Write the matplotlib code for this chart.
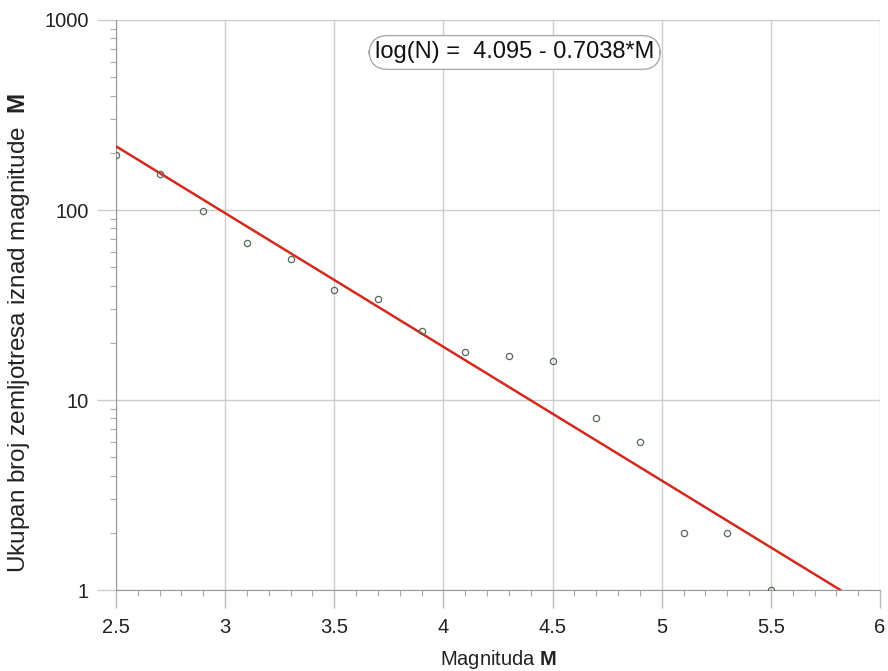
import numpy as np
import matplotlib.pyplot as plt
from matplotlib.ticker import FixedLocator, MultipleLocator, LogLocator, NullFormatter

plt.rcParams['font.family'] = ['Liberation Sans', 'DejaVu Sans']
plt.rcParams['mathtext.fontset'] = 'custom'
plt.rcParams['mathtext.rm'] = 'Liberation Sans'
plt.rcParams['mathtext.bf'] = 'Liberation Sans:bold'

# observed cumulative counts
magnitude = [2.5, 2.7, 2.9, 3.1, 3.3, 3.5, 3.7, 3.9, 4.1, 4.3, 4.5, 4.7, 4.9, 5.1, 5.3, 5.5]
count = [195, 154, 99, 67, 55, 38, 34, 23, 18, 17, 16, 8, 6, 2, 2, 1]

# Gutenberg-Richter fit: log(N) = a - b*M
a_val = 4.095
b_val = 0.7038
fit_m = [2.5, a_val / b_val]
fit_n = [10 ** (a_val - b_val * m) for m in fit_m]

x_ticks = [2.5, 3, 3.5, 4, 4.5, 5, 5.5, 6]
x_labels = ["2.5", "3", "3.5", "4", "4.5", "5", "5.5", "6"]
y_ticks = [1, 10, 100, 1000]
y_labels = ["1", "10", "100", "1000"]

fig = plt.figure(figsize=(8.88, 6.71), dpi=100)
ax = fig.add_axes([0.1306, 0.1207, 0.8604, 0.8495])

ax.plot(fit_m, fit_n, color='#d42a1e', lw=1.8, zorder=3)
ax.plot(magnitude, count, 'o', ms=4.5, mfc='none', mec='#5a6a5a', mew=0.9, zorder=4)

ax.set_yscale('log')
ax.set_xlim(2.5, 6)
ax.set_ylim(1, 1000)

ax.xaxis.set_major_locator(FixedLocator(x_ticks))
ax.set_xticklabels(x_labels)
ax.xaxis.set_minor_locator(MultipleLocator(0.1))
ax.yaxis.set_major_locator(FixedLocator(y_ticks))
ax.set_yticklabels(y_labels)
ax.yaxis.set_minor_locator(LogLocator(base=10, subs=np.arange(2, 10)))
ax.yaxis.set_minor_formatter(NullFormatter())

ax.grid(True, which='major', color='#cccccc', lw=1.0)
ax.set_axisbelow(True)
for side in ['top', 'right']:
    ax.spines[side].set_visible(False)
for side in ['left', 'bottom']:
    ax.spines[side].set_color('#999999')
ax.tick_params(axis='x', which='major', direction='out', length=13, color='#bbbbbb', width=1.0,
               labelsize=14.5, labelcolor='#222222', pad=7)
ax.tick_params(axis='y', which='major', direction='out', length=13.5, color='#cccccc', width=1.0,
               labelsize=14.5, labelcolor='#222222', pad=6)
ax.tick_params(which='minor', direction='out', length=4, color='#aaaaaa', width=0.8)

ax.set_xlabel(r"Magnituda $\mathbf{M}$", fontsize=14.5, color='#222222')
ax.xaxis.set_label_coords(0.5, -0.102)
ax.set_ylabel(r"Ukupan broj zemljotresa iznad magnitude  $\mathbf{M}$", fontsize=17.5,
              color='#222222')
ax.yaxis.set_label_coords(-0.110, 0.451)

ax.text(0.522, 0.943, "log(N) =  4.095 - 0.7038*M", transform=ax.transAxes,
        ha='center', va='center', fontsize=17, color='#111111',
        bbox=dict(boxstyle='round,pad=0.25,rounding_size=0.8', fc='white', ec='#aaaaaa', lw=1.0),
        zorder=5)

fig.savefig("out.png", dpi=100)
